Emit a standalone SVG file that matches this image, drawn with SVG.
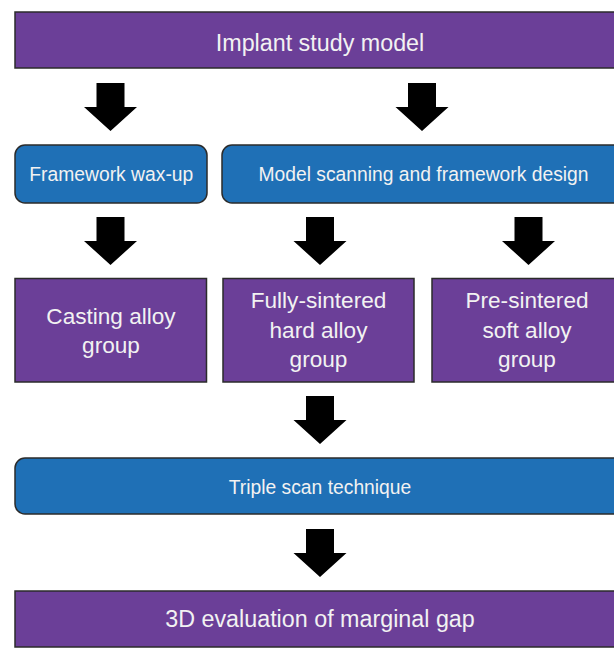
<svg xmlns="http://www.w3.org/2000/svg" xmlns:xlink="http://www.w3.org/1999/xlink" width="614" height="649" viewBox="0 0 614 649">
  <style>
    .purple { fill: #6B3F98; stroke: #2B2B2B; stroke-width: 1.5; }
    .blue { fill: #1F70B6; stroke: #2B2B2B; stroke-width: 1.5; }
    .lbl { font-family: "Liberation Sans", Arial, sans-serif; fill: #F2F2F2; text-anchor: middle; }
    .big { font-size: 23.3px; }
    .mid { font-size: 19.3px; }
    .grp { font-size: 22.6px; }
    .arrow { fill: #000000; }
  </style>
  <defs>
    <path id="arrow" d="M -14,0 H 14 V 24 H 26.5 L 0,48 L -26.5,24 H -14 Z"/>
  </defs>
  <rect width="614" height="649" fill="#FFFFFF"/>

  <g id="connectors" class="arrow">
    <use xlink:href="#arrow" href="#arrow" x="110.5" y="83"/>
    <use xlink:href="#arrow" href="#arrow" x="422" y="83"/>
    <use xlink:href="#arrow" href="#arrow" x="110.5" y="217"/>
    <use xlink:href="#arrow" href="#arrow" x="320" y="217"/>
    <use xlink:href="#arrow" href="#arrow" x="528.5" y="217"/>
    <use xlink:href="#arrow" href="#arrow" x="320" y="396"/>
    <use xlink:href="#arrow" href="#arrow" x="320" y="529"/>
  </g>

  <g id="implant-study-model">
    <rect class="purple" x="15" y="12" width="610" height="56"/>
    <text class="lbl big" x="320" y="51">Implant study model</text>
  </g>

  <g id="framework-wax-up">
    <rect class="blue" x="15" y="145" width="192" height="58" rx="10" ry="10"/>
    <text class="lbl mid" x="111.3" y="181">Framework wax-up</text>
  </g>

  <g id="model-scanning">
    <rect class="blue" x="222" y="145" width="410" height="58" rx="10" ry="10"/>
    <text class="lbl mid" x="423.5" y="181">Model scanning and framework design</text>
  </g>

  <g id="casting-alloy-group">
    <rect class="purple" x="15" y="278.5" width="191.5" height="103.5"/>
    <text class="lbl grp" x="111" y="324">Casting alloy</text>
    <text class="lbl grp" x="111" y="353">group</text>
  </g>

  <g id="fully-sintered-group">
    <rect class="purple" x="223" y="278.5" width="191" height="103.5"/>
    <text class="lbl grp" x="318.5" y="308">Fully-sintered</text>
    <text class="lbl grp" x="318.5" y="338">hard alloy</text>
    <text class="lbl grp" x="318.5" y="367">group</text>
  </g>

  <g id="pre-sintered-group">
    <rect class="purple" x="432" y="278.5" width="200" height="103.5"/>
    <text class="lbl grp" x="527" y="308">Pre-sintered</text>
    <text class="lbl grp" x="527" y="338">soft alloy</text>
    <text class="lbl grp" x="527" y="367">group</text>
  </g>

  <g id="triple-scan">
    <rect class="blue" x="15" y="458" width="620" height="56" rx="10" ry="10"/>
    <text class="lbl mid" x="320" y="494">Triple scan technique</text>
  </g>

  <g id="evaluation">
    <rect class="purple" x="15" y="591" width="610" height="56"/>
    <text class="lbl big" x="320" y="627">3D evaluation of marginal gap</text>
  </g>
</svg>
